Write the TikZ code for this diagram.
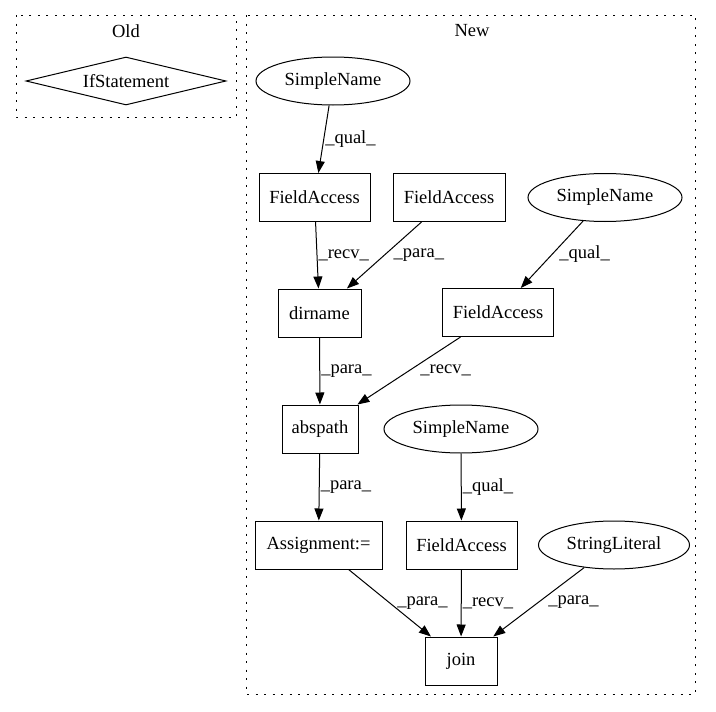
\documentclass[tikz,border=0pt]{standalone}
\usepackage{fontspec}
\setmainfont{Liberation Serif}
\usetikzlibrary{arrows.meta,shapes.geometric}

\begin{document}
\begin{tikzpicture}[x=1pt,y=-1pt,
    font=\fontsize{18.5}{22}\selectfont,
    box/.style={draw, rectangle, line width=1pt, inner sep=0pt, minimum height=48pt},
    oval/.style={draw, ellipse, line width=1pt, inner sep=0pt, minimum height=48pt, minimum width=154pt},
    cluster/.style={line width=1pt, dash pattern=on 2pt off 6.5pt},
    flow/.style={line width=1pt, -{Triangle[length=12pt,width=9pt]}},
    lbl/.style={midway, anchor=west, inner sep=1pt}]
  \useasboundingbox (0,0) rectangle (716,712);
  % clusters
  \draw[cluster] (16,15) rectangle (236,117);
  \node (oldlabel) at (126,31) {Old};
  \draw[cluster] (246,15) rectangle (695,694);
  \node (newlabel) at (472,31) {New};
  % old
  \node[draw, diamond, line width=1pt, inner sep=0pt, aspect=4.17,
        minimum width=200pt, minimum height=48pt] (ifstmt) at (126,81) {IfStatement};
  % new
  \node[oval] (name1) at (333,81) {SimpleName};
  \node[box, minimum width=111pt] (field1) at (314.5,197.5) {FieldAccess};
  \node[box, minimum width=112pt] (field2) at (449,197.5) {FieldAccess};
  \node[oval] (name2) at (605,197.5) {SimpleName};
  \node[box, minimum width=83pt] (dirname) at (319.5,313) {dirname};
  \node[box, minimum width=111pt] (field3) at (498,312.5) {FieldAccess};
  \node[box, minimum width=76pt] (abspath) at (320,429) {abspath};
  \node[oval] (name3) at (461,429) {SimpleName};
  \node[box, minimum width=127pt] (assign) at (318.5,545) {Assignment:=};
  \node[box, minimum width=111pt] (field4) at (461.5,545) {FieldAccess};
  \node[oval, minimum width=151pt] (strlit) at (614,545) {StringLiteral};
  \node[box, minimum width=72pt] (join) at (461,661) {join};

  \draw[flow] (name1) -- (field1) node[lbl] {\_qual\_};
  \draw[flow] (field1) -- (dirname) node[lbl] {\_recv\_};
  \draw[flow] (field2) -- (dirname) node[lbl, xshift=8pt] {\_para\_};
  \draw[flow] (name2) -- (field3) node[lbl, xshift=6pt] {\_qual\_};
  \draw[flow] (dirname) -- (abspath) node[lbl] {\_para\_};
  \draw[flow] (field3) -- (abspath) node[lbl, xshift=10pt] {\_recv\_};
  \draw[flow] (abspath) -- (assign) node[lbl] {\_para\_};
  \draw[flow] (name3) -- (field4) node[lbl] {\_qual\_};
  \draw[flow] (assign) -- (join) node[lbl, xshift=6pt] {\_para\_};
  \draw[flow] (field4) -- (join) node[lbl] {\_recv\_};
  \draw[flow] (strlit) -- (join) node[lbl, xshift=8pt] {\_para\_};
\end{tikzpicture}
\end{document}
